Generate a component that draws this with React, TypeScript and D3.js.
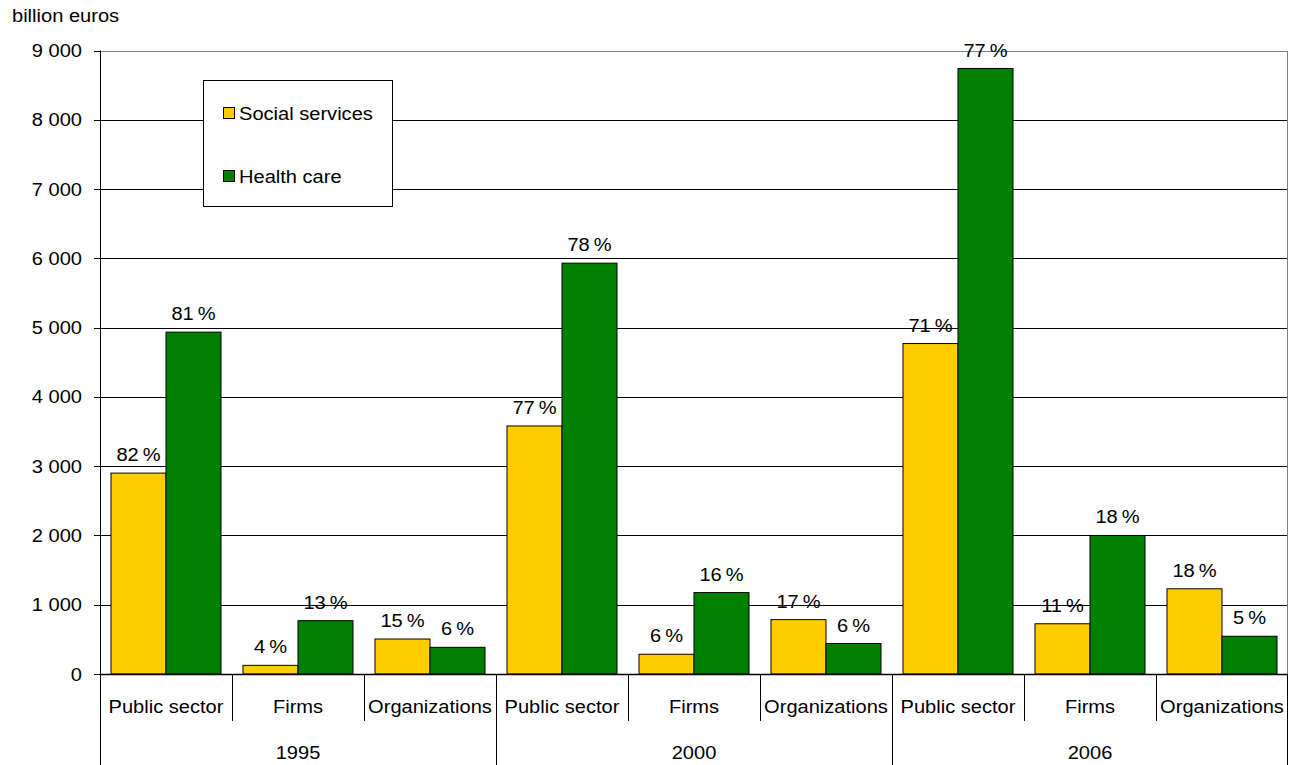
import React from "react";
import * as d3 from "d3";

const years = ["1995", "2000", "2006"];
const sectors = ["Public sector", "Firms", "Organizations"];
const socialServices = [2900, 125, 505, 3580, 285, 785, 4770, 725, 1230];
const healthCare = [4935, 770, 385, 5930, 1175, 440, 8740, 2000, 545];
const socialPct = ["82", "4", "15", "77", "6", "17", "71", "11", "18"];
const healthPct = ["81", "13", "6", "78", "16", "6", "77", "18", "5"];
const yTicks = [0, 1000, 2000, 3000, 4000, 5000, 6000, 7000, 8000, 9000];
const seriesNames = ["Social services", "Health care"];
const colors = ["#FFCC00", "#008000"];

const W = 1293, H = 765;
const left = 100, right = 1288, top = 50.5, bottom = 674;
const FONT = "'Liberation Sans', Arial, sans-serif";
const FS = 18.5;
const SX = 1.085;

function fmt(v: number) {
  const s = String(v);
  if (v >= 1000) return s.slice(0, s.length - 3) + " " + s.slice(-3);
  return s;
}

function T({ x, y, anchor, children }: { x: number; y: number; anchor?: string; children: any }) {
  return (
    <text transform={`translate(${x},${y}) scale(${SX},1)`} x={0} y={0} fontSize={FS}
      textAnchor={anchor || "start"} fill="#000">{children}</text>
  );
}

export default function App() {
  const cats = years.flatMap((y) => sectors.map((s) => `${y}|${s}`));
  const x0 = d3.scaleBand<string>().domain(cats).range([left, right]).padding(0);
  const x1 = d3.scaleBand<string>().domain(seriesNames).range([0, x0.bandwidth()]).paddingInner(0).paddingOuter(0.2);
  const y = d3.scaleLinear().domain([0, 9000]).range([bottom, top]);
  const series = [socialServices, healthCare];
  const pcts = [socialPct, healthPct];
  const groupW = x0.bandwidth() * sectors.length;

  return (
    <div style={{ position: "absolute", left: 0, top: 0 }}>
      <svg width={W} height={H} style={{ display: "block", fontFamily: FONT }}>
        <rect x={0} y={0} width={W} height={H} fill="#fff" />
        <T x={12} y={22}>billion euros</T>
        {/* gridlines */}
        {yTicks.map((t) => (
          <line key={"g" + t} x1={left} x2={right} y1={Math.round(y(t)) + 0.5} y2={Math.round(y(t)) + 0.5}
            stroke={t === 9000 ? "#808080" : "#000"} strokeWidth={1} />
        ))}
        <line x1={right - 0.5} x2={right - 0.5} y1={Math.round(y(9000)) + 0.5} y2={bottom} stroke="#808080" strokeWidth={1} />
        {/* y axis */}
        {yTicks.map((t) => (
          <g key={"t" + t}>
            <line x1={left - 6} x2={left} y1={Math.round(y(t)) + 0.5} y2={Math.round(y(t)) + 0.5} stroke="#000" />
            <T x={82} y={y(t) + 6.5} anchor="end">{fmt(t)}</T>
          </g>
        ))}
        {/* bars */}
        {cats.map((c, i) => (
          <g key={c}>
            {seriesNames.map((s, k) => {
              const bx = (x0(c) as number) + (x1(s) as number);
              const v = series[k][i];
              return (
                <g key={s}>
                  <rect x={bx} y={y(v)} width={x1.bandwidth()} height={bottom - y(v)} fill={colors[k]} stroke="#000" strokeWidth={1} />
                  <T x={bx + x1.bandwidth() / 2} y={y(v) - 12} anchor="middle">
                    {pcts[k][i] + "\u2009%"}
                  </T>
                </g>
              );
            })}
          </g>
        ))}
        {/* x axis baseline */}
        <line x1={left} x2={right} y1={bottom + 0.5} y2={bottom + 0.5} stroke="#000" strokeWidth={1.5} />
        <line x1={left + 0.5} x2={left + 0.5} y1={top} y2={H} stroke="#000" strokeWidth={1} />
        {/* category separators */}
        {cats.map((c, i) => {
          const xx = Math.round(x0(c) as number) + 0.5;
          const isGroup = i % sectors.length === 0;
          return i === 0 ? null : (
            <line key={"s" + c} x1={xx} x2={xx} y1={bottom} y2={isGroup ? H : 721} stroke="#000" strokeWidth={1} />
          );
        })}
        <line x1={right - 0.5} x2={right - 0.5} y1={bottom} y2={H} stroke="#000" strokeWidth={1} />
        {/* category labels */}
        {cats.map((c, i) => (
          <T key={"l" + c} x={(x0(c) as number) + x0.bandwidth() / 2} y={713} anchor="middle">
            {sectors[i % sectors.length]}
          </T>
        ))}
        {years.map((yr, j) => (
          <T key={yr} x={left + groupW * j + groupW / 2} y={759} anchor="middle">{yr}</T>
        ))}
        {/* legend */}
        <rect x={203.5} y={80.5} width={189} height={126} fill="#fff" stroke="#000" strokeWidth={1} />
        {seriesNames.map((s, k) => (
          <g key={"lg" + s}>
            <rect x={223.5} y={107.5 + k * 63} width={11} height={11} fill={colors[k]} stroke="#000" strokeWidth={1} />
            <T x={239} y={119.5 + k * 63}>{s}</T>
          </g>
        ))}
      </svg>
    </div>
  );
}
